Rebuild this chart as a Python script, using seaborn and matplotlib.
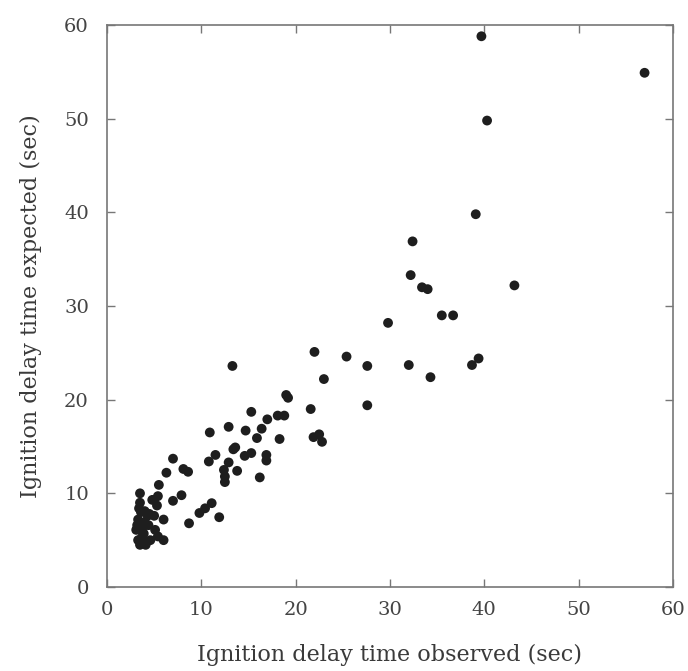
import matplotlib
matplotlib.use("Agg")
import matplotlib.pyplot as plt
import seaborn as sns
import pandas as pd

observed = [
    57.0, 39.7, 40.3, 39.1, 32.4, 32.2, 33.4, 34.0, 43.2, 35.5, 36.7, 29.8,
    22.0, 25.4, 27.6, 32.0, 39.4, 38.7, 23.0, 34.3, 21.6, 27.6, 21.9, 22.5, 22.8,
    19.0, 19.2, 15.3, 17.0, 18.1, 18.8, 12.9, 10.9, 14.7, 16.4, 15.9, 18.3,
    13.4, 13.6, 14.6, 15.3, 16.9, 16.9, 11.5, 10.8, 12.9, 12.4, 13.8, 12.5,
    12.5, 16.2, 13.3,
    7.0, 6.3, 8.1, 8.6, 5.5, 3.5, 5.4, 7.0, 7.9, 3.5, 5.3, 4.0, 11.1, 10.4,
    9.8, 11.9, 8.7, 6.0, 3.3, 4.4, 3.1, 5.1, 3.9, 5.4, 3.3, 4.6, 6.0, 3.5,
    4.2, 3.8, 4.3, 3.6, 4.8, 3.2, 3.7, 4.0, 3.4, 4.5, 4.1, 5.0,
]
expected = [
    54.9, 58.8, 49.8, 39.8, 36.9, 33.3, 32.0, 31.8, 32.2, 29.0, 29.0, 28.2,
    25.1, 24.6, 23.6, 23.7, 24.4, 23.7, 22.2, 22.4, 19.0, 19.4, 16.0, 16.3, 15.5,
    20.5, 20.2, 18.7, 17.9, 18.3, 18.3, 17.1, 16.5, 16.7, 16.9, 15.9, 15.8,
    14.7, 14.9, 14.0, 14.3, 14.1, 13.5, 14.1, 13.4, 13.3, 12.5, 12.4, 11.8,
    11.2, 11.7, 23.6,
    13.7, 12.2, 12.6, 12.3, 10.9, 10.0, 9.7, 9.2, 9.8, 9.0, 8.7, 8.1, 8.95, 8.4,
    7.9, 7.45, 6.8, 7.2, 7.2, 6.6, 6.1, 6.1, 5.7, 5.4, 5.0, 5.0, 5.0, 4.5,
    4.8, 6.4, 7.6, 8.0, 9.3, 6.6, 5.3, 6.9, 8.4, 7.8, 4.5, 7.6,
]

x_label = "Ignition delay time observed (sec)"
y_label = "Ignition delay time expected (sec)"
ticks = [0, 10, 20, 30, 40, 50, 60]

df = pd.DataFrame({"observed": observed, "expected": expected})

sns.set_theme(style="ticks")
plt.rcParams["font.family"] = ["DejaVu Serif"]

fig = plt.figure(figsize=(6.88, 6.71), dpi=100)
ax = fig.add_axes([0.1555, 0.1252, 0.8225, 0.8375])

sns.scatterplot(data=df, x="observed", y="expected", ax=ax,
                color="#1e1e1e", s=50, edgecolor="none", linewidth=0)

ax.set_xlim(0, 60)
ax.set_ylim(0, 60)
ax.set_xticks(ticks)
ax.set_yticks(ticks)
ax.tick_params(direction="in", top=True, right=True, length=6, width=1.0,
               color="#777777", labelsize=14, labelcolor="#444444")
ax.tick_params(axis="x", pad=10)
ax.tick_params(axis="y", pad=13)
for sp in ax.spines.values():
    sp.set_visible(True)
    sp.set_color("#777777")
    sp.set_linewidth(1.2)

ax.set_xlabel(x_label, fontsize=16, color="#3a3a3a", labelpad=18)
ax.set_ylabel(y_label, fontsize=16, color="#3a3a3a", labelpad=16)

fig.savefig("out.png", dpi=100, facecolor="white")
